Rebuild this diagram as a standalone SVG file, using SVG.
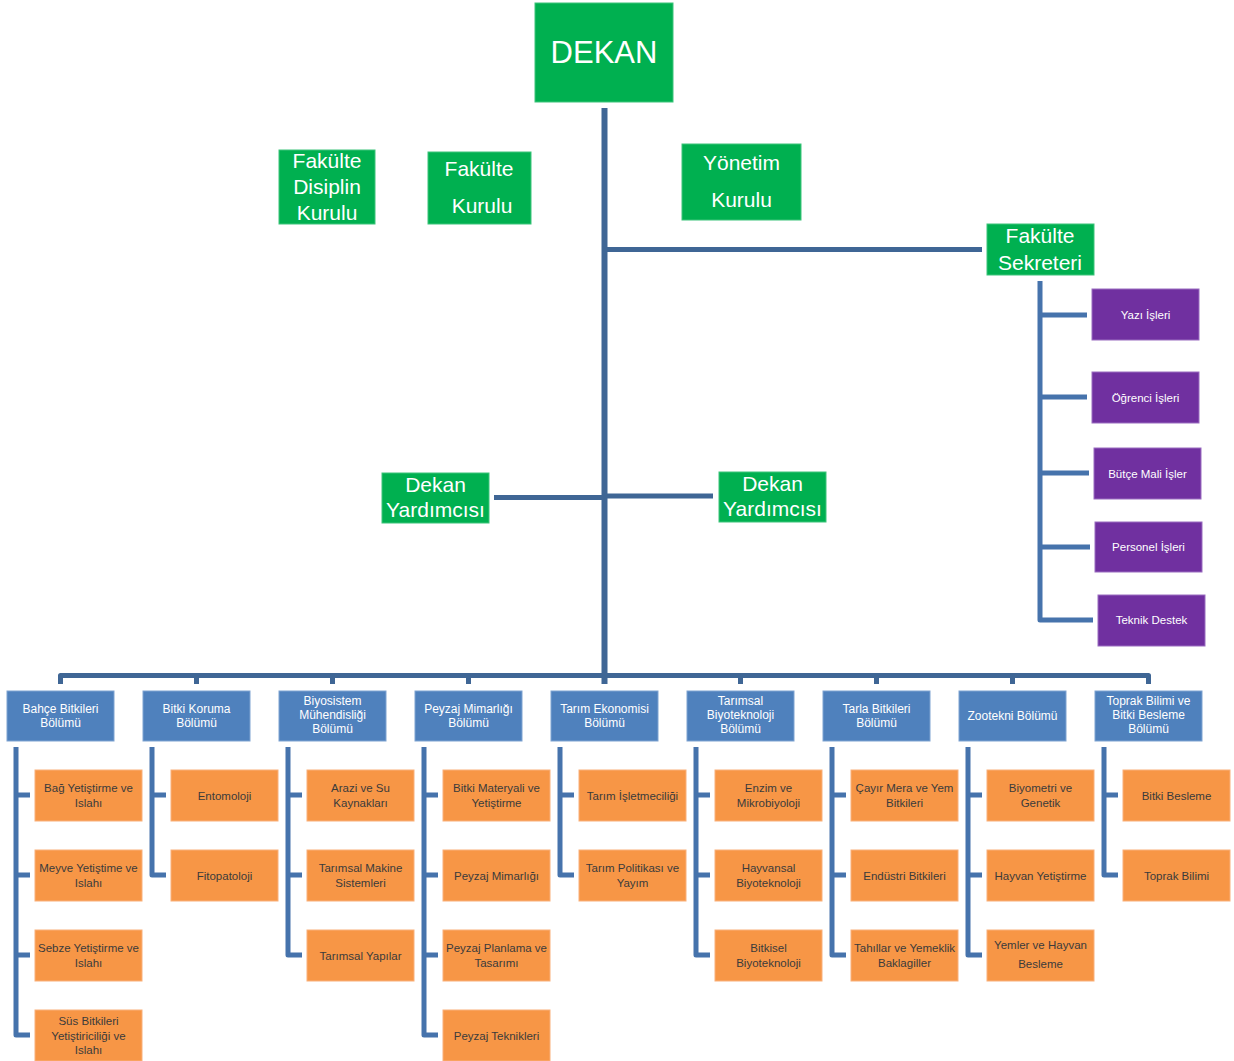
<svg xmlns="http://www.w3.org/2000/svg" width="1234" height="1061" viewBox="0 0 1234 1061">
<style>
text{font-family:"Liberation Sans",Arial,sans-serif;text-anchor:middle}
.g{fill:#00B050;stroke:#3DC47A;stroke-width:1}
.gt{fill:#fff;font-size:21px}
.d{fill:#4F81BD;stroke:#7FA3D1;stroke-width:1}
.dt{fill:#fff;font-size:12px}
.o{fill:#F79646;stroke:#F9B07A;stroke-width:1}
.ot{fill:#3B3B3B;font-size:11.5px}
.p{fill:#7030A0;stroke:#9A6CC0;stroke-width:1}
.pt{fill:#fff;font-size:11.5px}
.main{fill:none;stroke:#3F6695;stroke-width:5;stroke-linejoin:round}
.sub{fill:none;stroke:#4673AC;stroke-width:5;stroke-linejoin:round}
</style>

<g id="connectors">
  <path class="main" d="M604.5 108 V684" style="stroke-width:6"/>
  <path class="main" d="M604.5 249.5 H982"/>
  <path class="main" d="M494 497.5 H604.5"/>
  <path class="main" d="M604.5 496 H713"/>
  <path class="main" d="M60.5 684 V675.5 H1148.5 V684"/>
  <path class="main" d="M196.5 675.5 V684 M332.5 675.5 V684 M468.5 675.5 V684 M604.5 675.5 V684 M740.5 675.5 V684 M876.5 675.5 V684 M1012.5 675.5 V684"/>
  <path class="sub" d="M1040 281 V620 H1093 M1040 315 H1087 M1040 397 H1087 M1040 473 H1089 M1040 547 H1090"/>
  <path class="sub" d="M16 747 V1035 H30 M16 795 H30 M16 875 H30 M16 955 H30"/>
  <path class="sub" d="M152 747 V875 H166 M152 795 H166"/>
  <path class="sub" d="M288 747 V955 H302 M288 795 H302 M288 875 H302"/>
  <path class="sub" d="M424 747 V1035 H438 M424 795 H438 M424 875 H438 M424 955 H438"/>
  <path class="sub" d="M560 747 V875 H574 M560 795 H574"/>
  <path class="sub" d="M696 747 V955 H710 M696 795 H710 M696 875 H710"/>
  <path class="sub" d="M832 747 V955 H846 M832 795 H846 M832 875 H846"/>
  <path class="sub" d="M968 747 V955 H982 M968 795 H982 M968 875 H982"/>
  <path class="sub" d="M1104 747 V875 H1118 M1104 795 H1118"/>
</g>

<g id="dekan"><rect class="g" x="535" y="3" width="138" height="99"/><text class="gt" x="604" y="63" style="font-size:31px">DEKAN</text></g>
<g id="fakulte-disiplin-kurulu"><rect class="g" x="279" y="150" width="96" height="74"/><text class="gt"><tspan x="327" y="168">Fakülte</tspan><tspan x="327" y="194">Disiplin</tspan><tspan x="327" y="220">Kurulu</tspan></text></g>
<g id="fakulte-kurulu"><rect class="g" x="428" y="152" width="103" height="72"/><text class="gt"><tspan x="479" y="176">Fakülte</tspan><tspan x="482" y="213">Kurulu</tspan></text></g>
<g id="yonetim-kurulu"><rect class="g" x="682" y="144" width="119" height="76"/><text class="gt"><tspan x="741.5" y="170">Yönetim</tspan><tspan x="741.5" y="207">Kurulu</tspan></text></g>
<g id="fakulte-sekreteri"><rect class="g" x="987" y="224" width="107" height="51"/><text class="gt"><tspan x="1040" y="243">Fakülte</tspan><tspan x="1040" y="270">Sekreteri</tspan></text></g>
<g id="dekan-yardimcisi-1"><rect class="g" x="382" y="473" width="107" height="50"/><text class="gt"><tspan x="435.5" y="492">Dekan</tspan><tspan x="435.5" y="517">Yardımcısı</tspan></text></g>
<g id="dekan-yardimcisi-2"><rect class="g" x="719" y="472" width="107" height="50"/><text class="gt"><tspan x="772.5" y="491">Dekan</tspan><tspan x="772.5" y="516">Yardımcısı</tspan></text></g>

<g id="yazi-isleri"><rect class="p" x="1092" y="289" width="107" height="51"/><text class="pt" x="1145.5" y="319">Yazı İşleri</text></g>
<g id="ogrenci-isleri"><rect class="p" x="1092" y="372" width="107" height="51"/><text class="pt" x="1145.5" y="401.5">Öğrenci İşleri</text></g>
<g id="butce-mali-isler"><rect class="p" x="1094" y="448" width="107" height="51"/><text class="pt" x="1147.5" y="478">Bütçe Mali İşler</text></g>
<g id="personel-isleri"><rect class="p" x="1095" y="522" width="107" height="50"/><text class="pt" x="1148.5" y="550.5">Personel İşleri</text></g>
<g id="teknik-destek"><rect class="p" x="1098" y="595" width="107" height="51"/><text class="pt" x="1151.5" y="624">Teknik Destek</text></g>

<g id="bahce-bitkileri"><rect class="d" x="7" y="691" width="107" height="50"/><text class="dt"><tspan x="60.5" y="713">Bahçe Bitkileri</tspan><tspan x="60.5" y="727">Bölümü</tspan></text></g>
<g id="bitki-koruma"><rect class="d" x="143" y="691" width="107" height="50"/><text class="dt"><tspan x="196.5" y="713">Bitki Koruma</tspan><tspan x="196.5" y="727">Bölümü</tspan></text></g>
<g id="biyosistem"><rect class="d" x="279" y="691" width="107" height="50"/><text class="dt"><tspan x="332.5" y="705">Biyosistem</tspan><tspan x="332.5" y="719">Mühendisliği</tspan><tspan x="332.5" y="733">Bölümü</tspan></text></g>
<g id="peyzaj-mimarligi"><rect class="d" x="415" y="691" width="107" height="50"/><text class="dt"><tspan x="468.5" y="713">Peyzaj Mimarlığı</tspan><tspan x="468.5" y="727">Bölümü</tspan></text></g>
<g id="tarim-ekonomisi"><rect class="d" x="551" y="691" width="107" height="50"/><text class="dt"><tspan x="604.5" y="713">Tarım Ekonomisi</tspan><tspan x="604.5" y="727">Bölümü</tspan></text></g>
<g id="tarimsal-biyoteknoloji"><rect class="d" x="687" y="691" width="107" height="50"/><text class="dt"><tspan x="740.5" y="705">Tarımsal</tspan><tspan x="740.5" y="719">Biyoteknoloji</tspan><tspan x="740.5" y="733">Bölümü</tspan></text></g>
<g id="tarla-bitkileri"><rect class="d" x="823" y="691" width="107" height="50"/><text class="dt"><tspan x="876.5" y="713">Tarla Bitkileri</tspan><tspan x="876.5" y="727">Bölümü</tspan></text></g>
<g id="zootekni"><rect class="d" x="959" y="691" width="107" height="50"/><text class="dt" x="1012.5" y="720">Zootekni Bölümü</text></g>
<g id="toprak-bilimi"><rect class="d" x="1095" y="691" width="107" height="50"/><text class="dt"><tspan x="1148.5" y="705">Toprak Bilimi ve</tspan><tspan x="1148.5" y="719">Bitki Besleme</tspan><tspan x="1148.5" y="733">Bölümü</tspan></text></g>

<g id="bag"><rect class="o" x="35" y="770" width="107" height="51"/><text class="ot"><tspan x="88.5" y="792">Bağ Yetiştirme ve</tspan><tspan x="88.5" y="807">Islahı</tspan></text></g>
<g id="meyve"><rect class="o" x="35" y="850" width="107" height="51"/><text class="ot"><tspan x="88.5" y="872">Meyve Yetiştime ve</tspan><tspan x="88.5" y="887">Islahı</tspan></text></g>
<g id="sebze"><rect class="o" x="35" y="930" width="107" height="51"/><text class="ot"><tspan x="88.5" y="952">Sebze Yetiştirme ve</tspan><tspan x="88.5" y="967">Islahı</tspan></text></g>
<g id="sus"><rect class="o" x="35" y="1010" width="107" height="51"/><text class="ot"><tspan x="88.5" y="1024.5">Süs Bitkileri</tspan><tspan x="88.5" y="1039.5">Yetiştiriciliği ve</tspan><tspan x="88.5" y="1054">Islahı</tspan></text></g>

<g id="entomoloji"><rect class="o" x="171" y="770" width="107" height="51"/><text class="ot" x="224.5" y="799.5">Entomoloji</text></g>
<g id="fitopatoloji"><rect class="o" x="171" y="850" width="107" height="51"/><text class="ot" x="224.5" y="879.5">Fitopatoloji</text></g>

<g id="arazi"><rect class="o" x="307" y="770" width="107" height="51"/><text class="ot"><tspan x="360.5" y="792">Arazi ve Su</tspan><tspan x="360.5" y="807">Kaynakları</tspan></text></g>
<g id="makine"><rect class="o" x="307" y="850" width="107" height="51"/><text class="ot"><tspan x="360.5" y="872">Tarımsal Makine</tspan><tspan x="360.5" y="887">Sistemleri</tspan></text></g>
<g id="yapilar"><rect class="o" x="307" y="930" width="107" height="51"/><text class="ot" x="360.5" y="959.5">Tarımsal Yapılar</text></g>

<g id="bitki-materyali"><rect class="o" x="443" y="770" width="107" height="51"/><text class="ot"><tspan x="496.5" y="792">Bitki Materyali ve</tspan><tspan x="496.5" y="807">Yetiştirme</tspan></text></g>
<g id="peyzaj-mim"><rect class="o" x="443" y="850" width="107" height="51"/><text class="ot" x="496.5" y="879.5">Peyzaj Mimarlığı</text></g>
<g id="peyzaj-planlama"><rect class="o" x="443" y="930" width="107" height="51"/><text class="ot"><tspan x="496.5" y="952">Peyzaj Planlama ve</tspan><tspan x="496.5" y="967">Tasarımı</tspan></text></g>
<g id="peyzaj-teknikleri"><rect class="o" x="443" y="1010" width="107" height="51"/><text class="ot" x="496.5" y="1039.5">Peyzaj Teknikleri</text></g>

<g id="isletmecilik"><rect class="o" x="579" y="770" width="107" height="51"/><text class="ot" x="632.5" y="799.5">Tarım İşletmeciliği</text></g>
<g id="politika"><rect class="o" x="579" y="850" width="107" height="51"/><text class="ot"><tspan x="632.5" y="872">Tarım Politikası ve</tspan><tspan x="632.5" y="887">Yayım</tspan></text></g>

<g id="enzim"><rect class="o" x="715" y="770" width="107" height="51"/><text class="ot"><tspan x="768.5" y="792">Enzim ve</tspan><tspan x="768.5" y="807">Mikrobiyoloji</tspan></text></g>
<g id="hayvansal"><rect class="o" x="715" y="850" width="107" height="51"/><text class="ot"><tspan x="768.5" y="872">Hayvansal</tspan><tspan x="768.5" y="887">Biyoteknoloji</tspan></text></g>
<g id="bitkisel"><rect class="o" x="715" y="930" width="107" height="51"/><text class="ot"><tspan x="768.5" y="952">Bitkisel</tspan><tspan x="768.5" y="967">Biyoteknoloji</tspan></text></g>

<g id="cayir"><rect class="o" x="851" y="770" width="107" height="51"/><text class="ot"><tspan x="904.5" y="792">Çayır Mera ve Yem</tspan><tspan x="904.5" y="807">Bitkileri</tspan></text></g>
<g id="endustri"><rect class="o" x="851" y="850" width="107" height="51"/><text class="ot" x="904.5" y="879.5">Endüstri Bitkileri</text></g>
<g id="tahillar"><rect class="o" x="851" y="930" width="107" height="51"/><text class="ot"><tspan x="904.5" y="952">Tahıllar ve Yemeklik</tspan><tspan x="904.5" y="967">Baklagiller</tspan></text></g>

<g id="biyometri"><rect class="o" x="987" y="770" width="107" height="51"/><text class="ot"><tspan x="1040.5" y="792">Biyometri ve</tspan><tspan x="1040.5" y="807">Genetik</tspan></text></g>
<g id="hayvan-yetistirme"><rect class="o" x="987" y="850" width="107" height="51"/><text class="ot" x="1040.5" y="879.5">Hayvan Yetiştirme</text></g>
<g id="yemler"><rect class="o" x="987" y="930" width="107" height="51"/><text class="ot"><tspan x="1040.5" y="949">Yemler ve Hayvan</tspan><tspan x="1040.5" y="968">Besleme</tspan></text></g>

<g id="bitki-besleme"><rect class="o" x="1123" y="770" width="107" height="51"/><text class="ot" x="1176.5" y="799.5">Bitki Besleme</text></g>
<g id="toprak"><rect class="o" x="1123" y="850" width="107" height="51"/><text class="ot" x="1176.5" y="879.5">Toprak Bilimi</text></g>
</svg>
